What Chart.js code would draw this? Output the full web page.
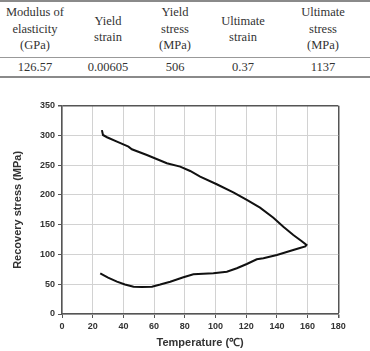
<!DOCTYPE html>
<html>
<head>
<meta charset="utf-8">
<script src="https://cdn.jsdelivr.net/npm/chart.js@4"></script>
<style>
  body { margin: 0; background: #fff; }
  #page { position: relative; width: 370px; height: 351px; overflow: hidden; }
  .rule { position: absolute; left: 0; width: 370px; background: #8a8a8a; }
  .cell { position: absolute; width: 90px; margin-left: -45px; display: flex; align-items: center;
          justify-content: center; text-align: center; font-family: "Liberation Serif", "Times New Roman", serif;
          font-size: 12.5px; line-height: 16.5px; color: #333; }
  #wrap { position: absolute; left: 0; top: 90px; width: 370px; height: 261px; }
</style>
</head>
<body>
<div id="page">
  <div class="rule" style="top:0px;height:1.5px"></div>
  <div class="rule" style="top:56.5px;height:1px;background:#999"></div>
  <div class="rule" style="top:76px;height:2px"></div>
  <div id="table"></div>
  <div id="wrap"><canvas id="myChart" width="370" height="261"></canvas></div>
</div>
<script>
// table text
var headers = [['Modulus of', 'elasticity', '(GPa)'], ['Yield', 'strain'], ['Yield', 'stress', '(MPa)'], ['Ultimate', 'strain'], ['Ultimate', 'stress', '(MPa)']]
var values = ['126.57', '0.00605', '506', '0.37', '1137']
var colX = [35, 108, 175, 243, 323]

// recovery stress loop (heating then cooling)
var temperature = [24.9, 30, 35.8, 41, 46.6, 52, 58.6, 64, 70.5, 79.1, 85.6, 92, 98.6, 107.4, 113.9, 120.4, 126.9, 131.2, 140, 148.5, 155, 158.5, 159.3,
    156, 150.7, 144.2, 137.7, 129, 120.4, 111.6, 100.8, 90, 83.5, 77, 68.3, 55.3, 45.5, 43.3, 35.8, 29.3, 26.7, 26]
var stress = [68.4, 61, 54.3, 49.5, 45.9, 45.3, 45.9, 49.5, 54.3, 61.7, 66.7, 67.6, 68.4, 71.1, 76.8, 84, 91.9, 93.6, 99.2, 105.9, 111, 113.5, 116,
    122.7, 132.8, 146.7, 161.8, 178.7, 191.6, 204.5, 218, 230.8, 240.3, 247.6, 253.3, 267.2, 276.8, 281.2, 289.6, 297, 300.8, 309]

var table = document.getElementById('table')
for (let i = 0; i < headers.length; i++) {
    let h = document.createElement('div')
    h.className = 'cell'
    h.style.left = colX[i] + 'px'
    h.style.top = '2px'
    h.style.height = '54px'
    h.innerHTML = headers[i].join('<br>')
    table.appendChild(h)

    let v = document.createElement('div')
    v.className = 'cell'
    v.style.left = colX[i] + 'px'
    v.style.top = '57px'
    v.style.height = '20px'
    v.textContent = values[i]
    table.appendChild(v)
}

var points = temperature.map(function(t, i) { return { x: t, y: stress[i] } })

var tickFont = { family: 'Liberation Sans, Arial, sans-serif', size: 9, weight: 'bold' }
var titleFont = { family: 'Liberation Sans, Arial, sans-serif', size: 11, weight: 'bold' }

var ctx = document.getElementById('myChart').getContext('2d')
var chart = new Chart(ctx, {
    type: 'scatter',
    data: {
        datasets: [{
            data: points,
            showLine: true,
            borderColor: '#111',
            borderWidth: 2,
            pointRadius: 0,
            tension: 0
        }]
    },
    options: {
        responsive: false,
        animation: false,
        layout: { padding: { top: 15.7, right: 31.7, left: 0, bottom: 0 } },
        plugins: { legend: { display: false }, tooltip: { enabled: false } },
        scales: {
            x: {
                type: 'linear',
                min: 0,
                max: 180,
                afterFit: function(scale) { scale.height = 37 },
                ticks: { stepSize: 20, font: tickFont, color: '#333', padding: 3 },
                grid: {
                    color: function(c) { return c.tick && c.tick.value === 180 ? '#555' : '#d2d2d2' },
                    tickColor: '#555',
                    tickLength: 4,
                    lineWidth: function(c) { return c.tick && c.tick.value === 180 ? 1.5 : 1 }
                },
                border: { color: '#555', width: 1.5 },
                title: { display: true, text: 'Temperature (\u2103)', font: titleFont, color: '#333', padding: { top: 0, bottom: 1.5 } }
            },
            y: {
                min: 0,
                max: 350,
                afterFit: function(scale) { scale.width = 62 },
                ticks: { stepSize: 50, font: tickFont, color: '#333', padding: 3 },
                grid: {
                    color: function(c) { return c.tick && c.tick.value === 350 ? '#555' : '#d2d2d2' },
                    tickColor: '#555',
                    tickLength: 4,
                    lineWidth: function(c) { return c.tick && c.tick.value === 350 ? 1.5 : 1 }
                },
                border: { color: '#555', width: 1.5 },
                title: { display: true, text: 'Recovery stress (MPa)', font: titleFont, color: '#333', padding: { top: 11, bottom: 0 } }
            }
        }
    }
})
</script>
</body>
</html>
